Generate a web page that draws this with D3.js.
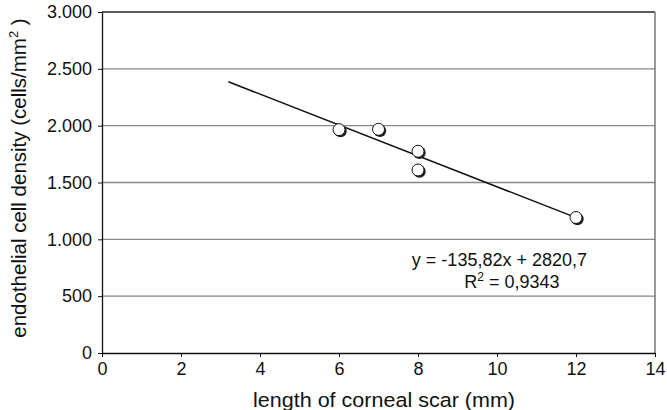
<!DOCTYPE html>
<html>
<head>
<meta charset="utf-8">
<script src="https://cdn.jsdelivr.net/npm/d3@7"></script>
<style>
  body { margin: 0; background: #fff; }
  text { font-family: "Liberation Sans", Arial, sans-serif; fill: #111; }
</style>
</head>
<body>
<div class="container"></div>
<script>
var scarLength = [6, 7, 8, 8, 12];
var cellDensity = [1965, 1968, 1775, 1610, 1192];
var yTicks = [0, 500, 1000, 1500, 2000, 2500, 3000];
var xTicks = [0, 2, 4, 6, 8, 10, 12, 14];
var fitRange = [3.2, 12];
var slope = -135.82;
var intercept = 2820.7;

var translate = function (x, y) {
    return 'translate(' + x + ', ' + y + ')';
};

var fmt = function (v) {
    return d3.format(',')(v).replace(/,/g, '.');
};

var visualize = function () {
    const WIDTH = 667;
    const HEIGHT = 410;
    const LEFT = 102, TOP = 12, RIGHT = 655, BOTTOM = 353;

    var xScale = d3.scaleLinear().domain([0, 14]).range([LEFT, RIGHT]);
    var yScale = d3.scaleLinear().domain([0, 3000]).range([BOTTOM, TOP]);

    var svg = d3.select('.container').append('svg')
        .attr('width', WIDTH)
        .attr('height', HEIGHT);

    // gridlines
    svg.append('g').selectAll('line')
        .data(yTicks.filter(function (d) { return d > 0; }))
        .enter().append('line')
        .attr('x1', LEFT).attr('x2', RIGHT)
        .attr('y1', function (d) { return yScale(d); })
        .attr('y2', function (d) { return yScale(d); })
        .attr('stroke', function (d) { return d === 3000 ? '#222' : '#888'; })
        .attr('stroke-width', 1.3);

    // right border
    svg.append('line')
        .attr('x1', RIGHT).attr('x2', RIGHT)
        .attr('y1', TOP).attr('y2', BOTTOM)
        .attr('stroke', '#777').attr('stroke-width', 1.5);

    var yAxis = d3.axisLeft(yScale).tickValues(yTicks).tickFormat(fmt)
        .tickSizeInner(4).tickSizeOuter(0).tickPadding(6);
    var xAxis = d3.axisBottom(xScale).tickValues(xTicks)
        .tickSizeInner(4).tickSizeOuter(0).tickPadding(5);

    var gy = svg.append('g').attr('transform', translate(LEFT, 0)).call(yAxis);
    var gx = svg.append('g').attr('transform', translate(0, BOTTOM)).call(xAxis);
    [gx, gy].forEach(function (g) {
        g.selectAll('.domain').attr('stroke', '#111').attr('stroke-width', 1.3);
        g.selectAll('.tick line').attr('stroke', '#111');
        g.selectAll('text').attr('font-size', 18).attr('fill', '#111')
            .style('font-family', '"Liberation Sans", Arial, sans-serif');
    });

    // trend line
    svg.append('line')
        .attr('x1', xScale(fitRange[0]))
        .attr('y1', yScale(intercept + slope * fitRange[0]))
        .attr('x2', xScale(fitRange[1]))
        .attr('y2', yScale(intercept + slope * fitRange[1]))
        .attr('stroke', '#111').attr('stroke-width', 1.5);

    var pts = scarLength.map(function (x, i) { return {x: x, y: cellDensity[i]}; });

    // marker shadows
    svg.append('g').selectAll('circle').data(pts).enter().append('circle')
        .attr('cx', function (d) { return xScale(d.x) + 1.5; })
        .attr('cy', function (d) { return yScale(d.y) + 1.5; })
        .attr('r', 6.2)
        .attr('fill', '#222');
    svg.append('g').selectAll('circle').data(pts).enter().append('circle')
        .attr('cx', function (d) { return xScale(d.x); })
        .attr('cy', function (d) { return yScale(d.y); })
        .attr('r', 6)
        .attr('fill', '#fff')
        .attr('stroke', '#111').attr('stroke-width', 1);

    // equation
    svg.append('text')
        .attr('x', 587).attr('y', 266)
        .attr('text-anchor', 'end').attr('font-size', 18)
        .text('y = -135,82x + 2820,7');
    var r2 = svg.append('text')
        .attr('x', 512).attr('y', 288)
        .attr('text-anchor', 'middle').attr('font-size', 18);
    r2.append('tspan').text('R');
    r2.append('tspan').attr('dy', -7).attr('font-size', 12).text('2');
    r2.append('tspan').attr('dy', 7).text(' = 0,9343');

    // axis titles
    svg.append('text')
        .attr('x', 384).attr('y', 407)
        .attr('text-anchor', 'middle').attr('font-size', 20.5)
        .attr('textLength', 262).attr('lengthAdjust', 'spacingAndGlyphs')
        .text('length of corneal scar (mm)');
    var yt = svg.append('text')
        .attr('transform', translate(26, 178) + ' rotate(-90)')
        .attr('text-anchor', 'middle').attr('font-size', 20.5);
    yt.append('tspan').text('endothelial cell density (cells/mm');
    yt.append('tspan').attr('dy', -8).attr('font-size', 13).text('2');
    yt.append('tspan').attr('dy', 8).text(' )');
};

window.onload = visualize;
</script>
</body>
</html>
